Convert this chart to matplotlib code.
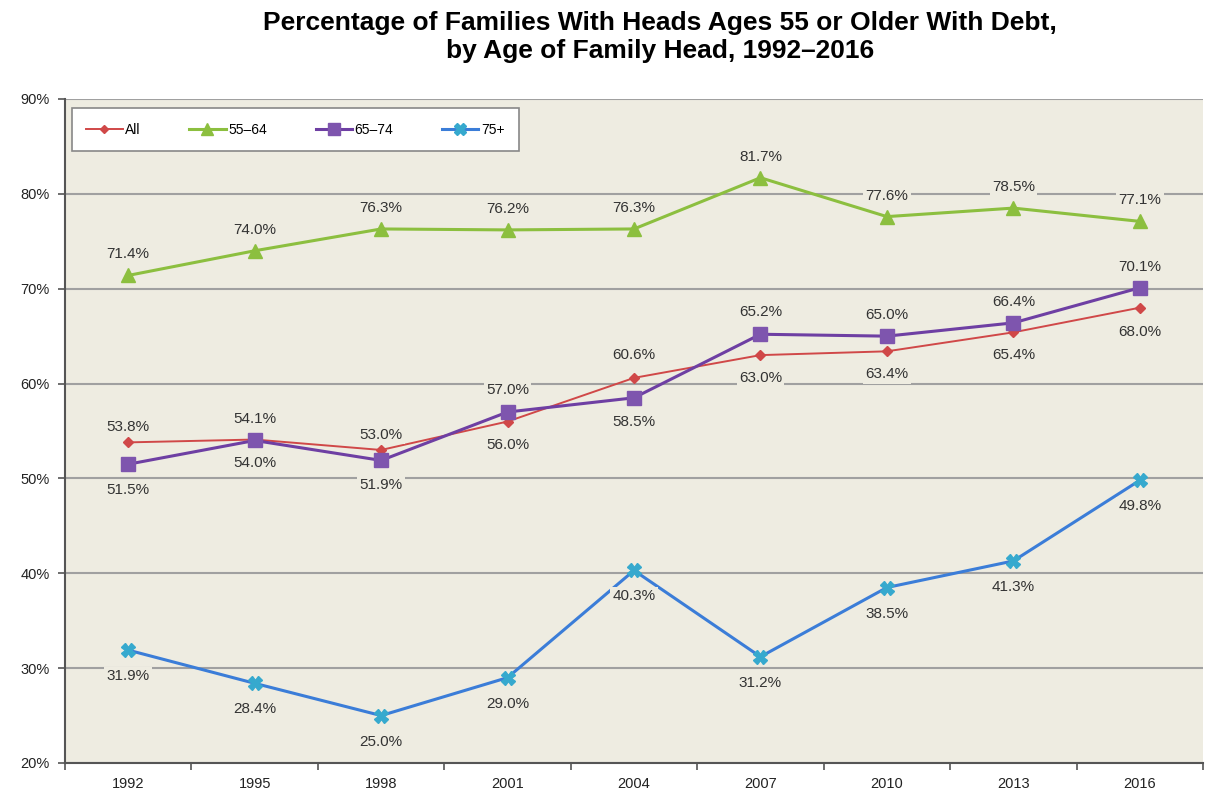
import numpy as np
import matplotlib
matplotlib.use('Agg')
from matplotlib import pyplot as plt

plt.rcParams['font.family'] = ['Liberation Sans', 'DejaVu Sans']

# data
years = ['1992', '1995', '1998', '2001', '2004', '2007', '2010', '2013', '2016']
all_fam = [53.8, 54.1, 53.0, 56.0, 60.6, 63.0, 63.4, 65.4, 68.0]
age_55_64 = [71.4, 74.0, 76.3, 76.2, 76.3, 81.7, 77.6, 78.5, 77.1]
age_65_74 = [51.5, 54.0, 51.9, 57.0, 58.5, 65.2, 65.0, 66.4, 70.1]
age_75 = [31.9, 28.4, 25.0, 29.0, 40.3, 31.2, 38.5, 41.3, 49.8]

# label offsets in pixels (negative = above the point)
off_all = [-15, -21, -15, 23, -23, 23, 23, 23, 24]
off_55 = [-21] * 9
off_65 = [26, 23, 25, -22, 24, -22, -21, -21, -21]
off_75 = [26] * 9

bg = '#EEECE1'
fig = plt.figure(figsize=(12.08, 7.96), dpi=100)
ax = fig.add_axes([65 / 1208, 33 / 796, 1138 / 1208, 664 / 796])
ax.set_facecolor(bg)

x = np.arange(len(years))
series = [
    ('All', all_fam, '#D04848', '#D04848', 'D', 5, 1.4, off_all),
    ('55\u201364', age_55_64, '#8CBF3F', '#8CBF3F', '^', 10, 2.2, off_55),
    ('65\u201374', age_65_74, '#6E3FA3', '#7E55AE', 's', 10, 2.2, off_65),
    ('75+', age_75, '#3B7DD8', '#36A9CE', 'X', 10, 2.2, off_75),
]
for name, vals, lc, mc, mk, ms, lw, offs in series:
    ax.plot(x, vals, color=lc, lw=lw, marker=mk, ms=ms, mfc=mc, mec=mc,
            label=name, zorder=3)
    for xi, v, o in zip(x, vals, offs):
        ax.annotate(f'{v:.1f}%', (xi, v), xytext=(0, -o * 0.72),
                    textcoords='offset points', ha='center', va='center',
                    fontsize=11, color='#333333', zorder=4,
                    bbox=dict(boxstyle='square,pad=0.15', fc=bg, ec='none'))

ax.set_xlim(-0.5, len(years) - 0.5)
ax.set_ylim(20, 90)
ax.set_yticks(np.arange(20, 91, 10))
ax.set_yticklabels([f'{t}%' for t in range(20, 91, 10)])
ax.set_xticks(x)
ax.set_xticklabels(years)
ax.set_xticks(np.arange(-0.5, len(years), 1), minor=True)
ax.tick_params(axis='x', which='major', length=0, pad=10, labelsize=10.5, labelcolor='#222222')
ax.tick_params(axis='x', which='minor', length=5, width=1.2, color='#555555')
ax.tick_params(axis='y', length=5, width=1.2, color='#555555', labelsize=10.5,
               labelcolor='#222222', pad=6)
ax.yaxis.grid(True, color='#A0A0A0', lw=1.5, zorder=1)
ax.set_axisbelow(True)
for s in ['top', 'right']:
    ax.spines[s].set_visible(False)
for s in ['left', 'bottom']:
    ax.spines[s].set_color('#555555')
    ax.spines[s].set_linewidth(1.5)

leg = ax.legend(loc='upper left', bbox_to_anchor=(0.006, 0.986), ncol=4,
                fontsize=10, frameon=True, fancybox=False, borderpad=1.05,
                borderaxespad=0, columnspacing=3.5, handlelength=2.6,
                handletextpad=0.2, markerscale=0.8)
leg.get_frame().set_edgecolor('#888888')
leg.get_frame().set_linewidth(1.2)
leg.get_frame().set_facecolor('white')
leg.get_frame().set_alpha(1)

fig.text(660 / 1208, 1 - 37 / 796,
         'Percentage of Families With Heads Ages 55 or Older With Debt,\nby Age of Family Head, 1992\u20132016',
         ha='center', va='center', fontsize=19, fontweight='bold', linespacing=1.2)

fig.savefig('out.png', dpi=100, facecolor='white')
